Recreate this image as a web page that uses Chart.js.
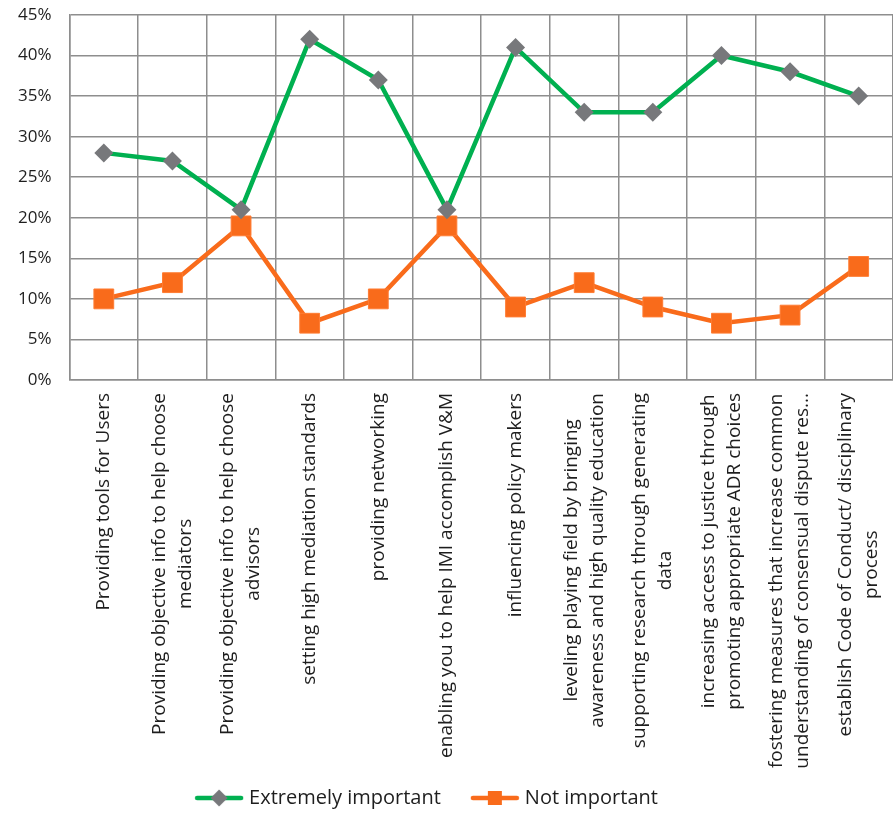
<!DOCTYPE html>
<html>
<head>
<meta charset="utf-8">
<script src="https://cdn.jsdelivr.net/npm/chart.js@4/dist/chart.umd.min.js"></script>
<style>
  html, body { margin: 0; padding: 0; background: #fff; overflow: hidden; }
  #wrap { width: 893px; height: 814px; position: relative; }
</style>
</head>
<body>
<div id="wrap"><canvas id="chart"></canvas></div>
<script>
const categories = [
  ['Providing tools for Users'],
  ['Providing objective info to help choose', 'mediators'],
  ['Providing objective info to help choose', 'advisors'],
  ['setting high mediation standards'],
  ['providing networking'],
  ['enabling you to help IMI accomplish V&M'],
  ['influencing policy makers'],
  ['leveling playing field by bringing', 'awareness and high quality education'],
  ['supporting research through generating', 'data'],
  ['increasing access to justice through', 'promoting appropriate ADR choices'],
  ['fostering measures that increase common', 'understanding of consensual dispute res...'],
  ['establish Code of Conduct/ disciplinary', 'process'],
];
const extremelyImportant = [28, 27, 21, 42, 37, 21, 41, 33, 33, 40, 38, 35];
const notImportant = [10, 12, 19, 7, 10, 19, 9, 12, 9, 7, 8, 14];
const yTicks = [0, 5, 10, 15, 20, 25, 30, 35, 40, 45];

const GREEN = '#00B050';
const ORANGE = '#F96B1B';
const GREY = '#77787B';
const GRID = '#8e8e8e';
const TEXT = '#1e1e1e';
const FONT = '"Open Sans", Lato, sans-serif';

// legend swatch: line with marker in the middle
function swatch(lineColor, drawMarker) {
  const c = document.createElement('canvas');
  c.width = 50; c.height = 20;
  const g = c.getContext('2d');
  g.strokeStyle = lineColor;
  g.lineWidth = 4.5;
  g.lineCap = 'round';
  g.beginPath(); g.moveTo(3, 10); g.lineTo(47, 10); g.stroke();
  drawMarker(g);
  return c;
}
const greenSwatch = swatch(GREEN, g => {
  g.fillStyle = GREY;
  g.beginPath(); g.moveTo(25, 1.5); g.lineTo(33.5, 10); g.lineTo(25, 18.5); g.lineTo(16.5, 10); g.closePath(); g.fill();
});
const orangeSwatch = swatch(ORANGE, g => {
  g.fillStyle = ORANGE;
  g.fillRect(18, 3, 14, 14);
});

// category labels: rotated, lines centred on each other, block anchored under the axis
const rotatedLabels = {
  id: 'rotatedLabels',
  afterLayout(chart) {
    // the reference legend sits a little left of centre
    chart.legend.right -= 36;
  },
  afterDraw(chart) {
    const { ctx, scales: { x } } = chart;
    const lineH = 26;
    ctx.save();
    ctx.font = '19px ' + FONT;
    ctx.fillStyle = TEXT;
    ctx.textAlign = 'center';
    ctx.textBaseline = 'middle';
    categories.forEach((lines, i) => {
      const px = x.getPixelForTick(i);
      const maxW = Math.max(...lines.map(l => ctx.measureText(l).width));
      lines.forEach((line, j) => {
        ctx.save();
        ctx.translate(px + (j - (lines.length - 1) / 2) * lineH, x.top + 13);
        ctx.rotate(-Math.PI / 2);
        ctx.fillText(line, -maxW / 2, 0);
        ctx.restore();
      });
    });
    ctx.restore();
  },
};

new Chart(document.getElementById('chart'), {
  type: 'line',
  data: {
    labels: categories,
    datasets: [
      {
        label: 'Extremely important',
        data: extremelyImportant,
        borderColor: GREEN,
        borderWidth: 4.5,
        pointStyle: 'rectRot',
        pointRadius: 9.5,
        pointHoverRadius: 9.5,
        pointBackgroundColor: GREY,
        pointBorderColor: GREY,
        pointBorderWidth: 0,
        tension: 0,
      },
      {
        label: 'Not important',
        data: notImportant,
        borderColor: ORANGE,
        borderWidth: 4.5,
        pointStyle: 'rect',
        pointRadius: 14,
        pointHoverRadius: 14,
        pointBackgroundColor: ORANGE,
        pointBorderColor: '#FF7C33',
        pointBorderWidth: 1,
        tension: 0,
      },
    ],
  },
  options: {
    responsive: true,
    maintainAspectRatio: false,
    animation: false,
    layout: { autoPadding: false, padding: 0 },
    plugins: {
      tooltip: { enabled: false },
      legend: {
        position: 'bottom',
        maxHeight: 60,
        labels: {
          usePointStyle: true,
          pointStyleWidth: 40,
          padding: 34,
          color: TEXT,
          font: { family: FONT, size: 20 },
          generateLabels: chart => chart.data.datasets.map((ds, i) => ({
            text: ds.label,
            pointStyle: i === 0 ? greenSwatch : orangeSwatch,
            fillStyle: ds.borderColor,
            strokeStyle: ds.borderColor,
            fontColor: TEXT,
            lineWidth: 0,
            datasetIndex: i,
          })),
        },
      },
    },
    scales: {
      x: {
        offset: true,
        grid: { offset: true, color: GRID, lineWidth: 1.5, drawTicks: false },
        border: { color: GRID, width: 1.5 },
        ticks: { display: false },
        afterFit: scale => { scale.height = 374; },
      },
      y: {
        min: 0,
        max: 45,
        afterBuildTicks: scale => { scale.ticks = yTicks.map(v => ({ value: v })); },
        afterFit: scale => { scale.paddingTop = 15; scale.paddingBottom = 10; },
        grid: { color: GRID, lineWidth: 1.5, drawTicks: false },
        border: { color: GRID, width: 1.5 },
        ticks: {
          padding: 18,
          color: TEXT,
          font: { family: FONT, size: 17 },
          callback: v => v + '%',
        },
      },
    },
  },
  plugins: [rotatedLabels],
});
</script>
</body>
</html>
